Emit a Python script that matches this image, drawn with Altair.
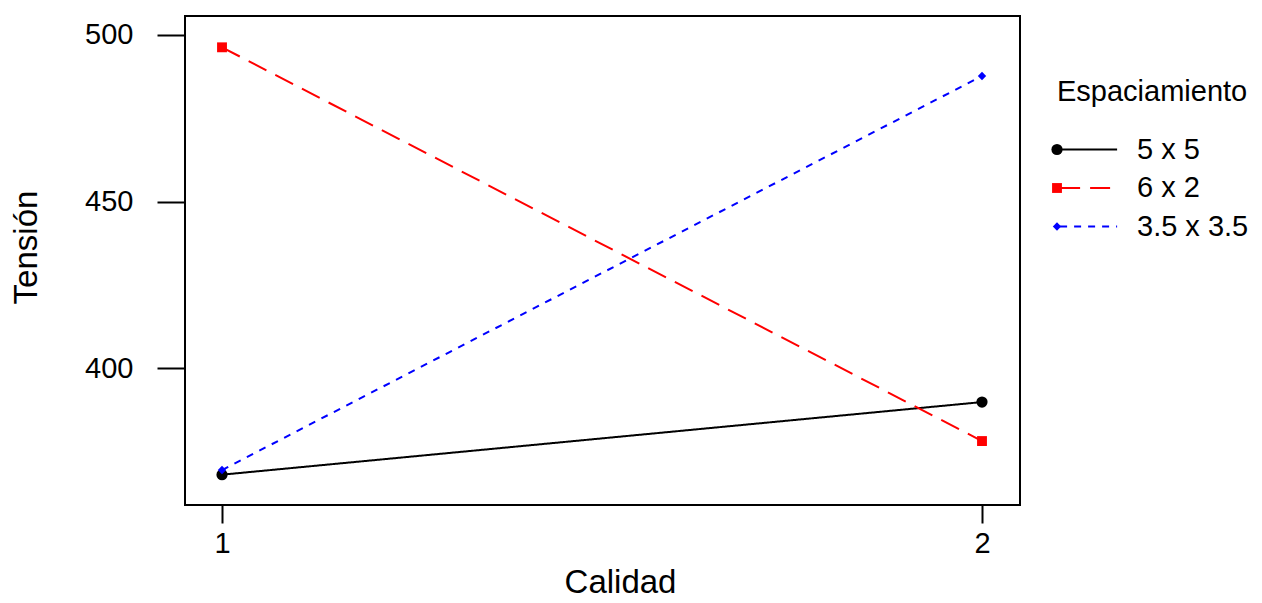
import altair as alt
import pandas as pd

# ---- data ----
calidad = [1, 2]
espaciamiento = ["5 x 5", "6 x 2", "3.5 x 3.5"]
tension_5x5 = [368.0, 389.8]
tension_6x2 = [496.3, 378.1]
tension_35x35 = [369.4, 487.7]
y_ticks = [400, 450, 500]
x_ticks = [1, 2]

# ---- styles ----
colores = ["#000000", "#FF0000", "#0000FF"]
guiones = [[1, 0], [20, 10], [7, 7]]
formas = ["circle", "square", "diamond"]
tamanos = [125, 70, 120]
FONT = "Liberation Sans"

# marker key: distinct values so that Vega-Lite keeps a separate marker legend
marcador = ["m " + e for e in espaciamiento]

rows = []
for name, mk, vals in zip(espaciamiento, marcador, [tension_5x5, tension_6x2, tension_35x35]):
    for c, v in zip(calidad, vals):
        rows.append({"calidad": c, "tension": v, "esp": name, "mk": mk})
df = pd.DataFrame(rows)

x_enc = alt.X(
    "calidad:Q",
    scale=alt.Scale(domain=[0.9513, 2.05], nice=False, zero=False),
    axis=alt.Axis(
        values=x_ticks, format="d", title="Calidad", domain=False, grid=False,
        tickSize=18, tickWidth=2, tickColor="black",
        labelFontSize=29, labelPadding=6, labelColor="black", labelFont=FONT,
        titleFontSize=33, titlePadding=8, titleColor="black", titleFont=FONT,
        titleFontWeight="normal", titleX=435,
    ),
)
y_enc = alt.Y(
    "tension:Q",
    scale=alt.Scale(domain=[358.9, 505.7], nice=False, zero=False),
    axis=alt.Axis(
        values=y_ticks, title="Tensión", domain=False, grid=False,
        tickSize=28, tickWidth=2, tickColor="black",
        labelFontSize=29, labelPadding=24, labelColor="black", labelFont=FONT,
        titleFontSize=33, titlePadding=41, titleColor="black", titleFont=FONT,
        titleFontWeight="normal", titleY=231,
    ),
)

line_legend = alt.Legend(
    orient="none", legendX=872, legendY=62, padding=0,
    title="Espaciamiento", titleFontSize=29, titleFontWeight="normal",
    titleFont=FONT, titleColor="black", titlePadding=28, titleLimit=400,
    labelFontSize=29, labelFont=FONT, labelColor="black", labelOffset=51,
    labelLimit=300,
    symbolType="M-2,0H8", symbolSize=130, symbolStrokeWidth=2,
    rowPadding=8.5,
)
point_legend = alt.Legend(
    orient="none", legendX=857.5, legendY=119, padding=0, title=None,
    labelExpr="''", labelFontSize=29, symbolStrokeWidth=0,
    rowPadding=8.5,
)

lines = alt.Chart(df).mark_line(strokeWidth=2).encode(
    x=x_enc, y=y_enc,
    color=alt.Color("esp:N", scale=alt.Scale(domain=espaciamiento, range=colores),
                    legend=line_legend),
    strokeDash=alt.StrokeDash("esp:N", scale=alt.Scale(domain=espaciamiento, range=guiones),
                              legend=line_legend),
    detail="esp:N",
)

points = alt.Chart(df).mark_point(filled=True, opacity=1).encode(
    x=x_enc, y=y_enc,
    fill=alt.Fill("mk:N", scale=alt.Scale(domain=marcador, range=colores),
                  legend=point_legend),
    shape=alt.Shape("mk:N", scale=alt.Scale(domain=marcador, range=formas),
                    legend=point_legend),
    size=alt.Size("mk:N", scale=alt.Scale(domain=marcador, range=tamanos),
                  legend=point_legend),
)

chart = alt.layer(lines, points).properties(
    width=835, height=489,
    autosize=alt.AutoSizeParams(type="none"),
    padding={"left": 177, "top": 8, "right": 230, "bottom": 90},
).configure(
    background="white",
    view=alt.ViewConfig(stroke="black", strokeWidth=2),
)

chart.save("out.html", embed_options={"renderer": "svg", "actions": False})
